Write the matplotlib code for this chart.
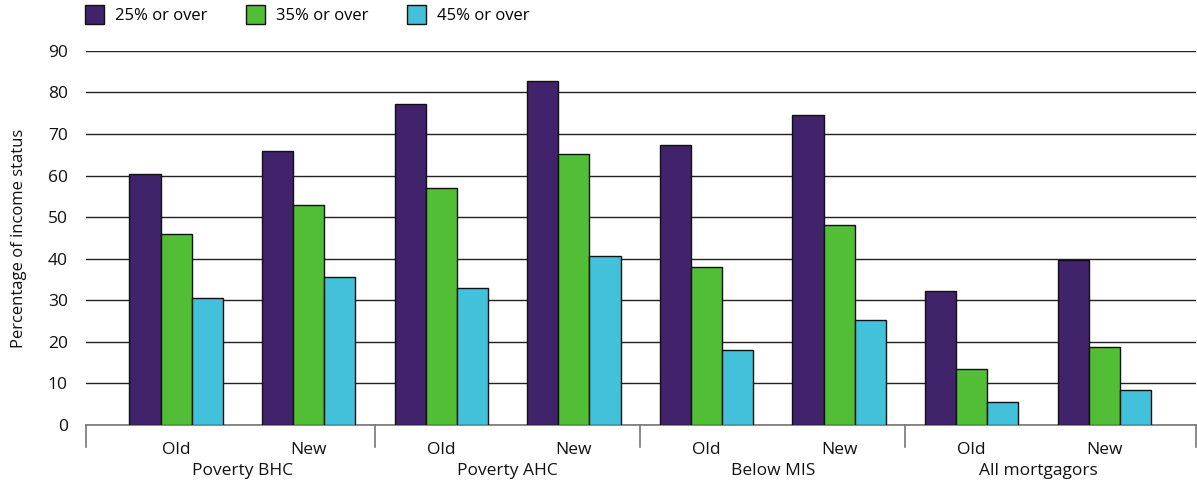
import matplotlib
matplotlib.use('Agg')
import numpy as np
import matplotlib.pyplot as plt
import matplotlib.transforms as mtransforms

plt.rcParams['font.family'] = ['Open Sans', 'DejaVu Sans']

# data
groups = ['Poverty BHC', 'Poverty AHC', 'Below MIS', 'All mortgagors']
periods = ['Old', 'New']
series = ['25% or over', '35% or over', '45% or over']
over25 = [60.4, 65.9, 77.2, 82.8, 67.3, 74.6, 32.2, 39.7]
over35 = [46.0, 53.0, 57.0, 65.2, 38.1, 48.1, 13.4, 18.7]
over45 = [30.6, 35.6, 33.0, 40.7, 18.1, 25.2, 5.5, 8.3]
colors = ['#40236A', '#52BE36', '#43C0DA']

values = [over25, over35, over45]
n = len(over25)
x = np.arange(n)
width = 0.235

fig = plt.figure(figsize=(11.97, 4.8), dpi=100)
ax = fig.add_axes([0.0718, 0.1146, 0.9272, 0.7794])

for i, (vals, col, lab) in enumerate(zip(values, colors, series)):
    ax.bar(x + (i - 1) * width, vals, width, color=col, edgecolor='#111111',
           linewidth=1, label=lab, zorder=3)

ax.set_ylim(0, 90)
ax.set_xlim(-0.68, n - 1 + 0.69)
ax.set_yticks(range(0, 91, 10))
ax.yaxis.grid(True, color='#222222', linewidth=1, zorder=0)
ax.tick_params(axis='y', length=0, labelsize=12.5, pad=13, colors='#111111')
ax.tick_params(axis='x', length=0, labelsize=12.5, pad=12, colors='#111111')
ax.set_xticks(x)
ax.set_xticklabels(periods * len(groups))
for s in ['top', 'right', 'left']:
    ax.spines[s].set_visible(False)
ax.spines['bottom'].set_color('#777777')
ax.spines['bottom'].set_linewidth(1.2)
ax.set_ylabel('Percentage of income status', fontsize=12, labelpad=15, color='#111111')

# group separators and group labels under the axis
trans = mtransforms.blended_transform_factory(ax.transData, ax.transAxes)
seps = [-0.68] + [2 * k + 1.5 for k in range(len(groups) - 1)] + [n - 1 + 0.69]
for s in seps:
    ax.plot([s, s], [0, -0.058], transform=trans, color='#777777', lw=1.2, clip_on=False)
for k, g in enumerate(groups):
    ax.text(2 * k + 0.5, -0.122, g, transform=trans, ha='center', va='center',
            fontsize=12.5, color='#111111')

fig.legend(loc='upper left', bbox_to_anchor=(0.0615, 1.014), ncol=3, frameon=False,
           fontsize=12, handlelength=1.15, handleheight=1.35, columnspacing=2.3,
           handletextpad=0.65, borderaxespad=0.3)

fig.savefig('out.png', dpi=100)
